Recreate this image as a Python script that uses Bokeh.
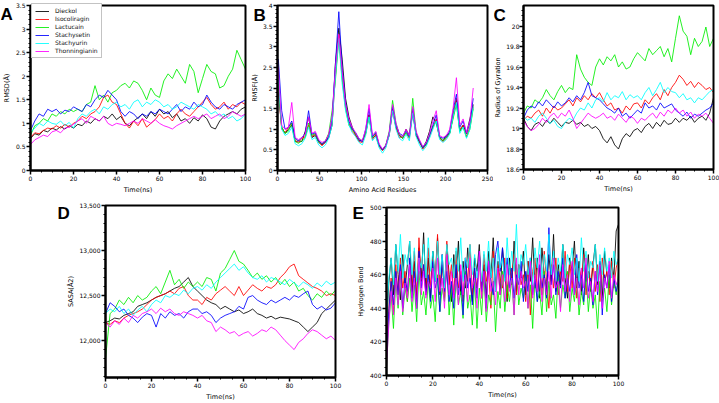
from bokeh.plotting import figure
from bokeh.layouts import column, row
from bokeh.models import (Range1d, SingleIntervalTicker, CustomJSTickFormatter,
                          NumeralTickFormatter, Label, BoxAnnotation)
from bokeh.embed import file_html
from bokeh.resources import INLINE

NAMES = ["Dieckol", "Isocoliragin", "Lactucain", "Stachysetin", "Stachyurin", "Thonningianin"]
COLORS = ["#000000", "#ff0000", "#00ee00", "#0000ff", "#00ffff", "#ff00ff"]

TIME = list(range(0, 101, 2))
TIME_E = list(range(0, 101))
RESIDUES = list(range(1, 234, 4))

# ---- A: RMSD (Angstrom) ----
RMSD_DIECKOL = [0.68,0.78,0.75,0.85,0.82,0.9,0.86,0.93,0.88,0.95,
                0.9,0.98,0.95,1.05,1.0,1.1,1.05,1.15,1.1,1.2,
                1.08,1.15,1.0,0.95,1.05,1.12,1.2,1.1,1.25,1.15,
                1.3,1.2,1.25,1.12,1.2,1.05,1.1,1.0,1.12,1.05,
                1.18,1.1,0.92,0.88,1.05,1.15,1.2,1.25,1.2,1.3,
                1.35]
RMSD_ISOCOLIRAGIN = [0.7,0.8,0.78,0.85,0.9,0.88,0.95,0.9,0.98,0.92,
                     1.0,1.05,1.15,1.1,1.2,1.25,1.35,1.55,1.6,1.45,
                     1.4,1.2,1.0,0.9,1.05,0.95,1.1,0.92,1.0,1.08,
                     1.2,1.1,1.15,1.05,1.2,1.3,1.2,1.15,1.25,1.35,
                     1.45,1.55,1.4,1.3,1.35,1.45,1.3,1.4,1.35,1.45,
                     1.4]
RMSD_LACTUCAIN = [0.75,0.95,1.0,1.1,1.05,1.2,1.15,1.25,1.2,1.3,
                  1.25,1.3,1.25,1.4,1.45,1.8,1.5,1.6,1.45,1.65,
                  1.7,1.8,1.85,1.75,1.9,1.85,1.7,1.5,1.75,1.6,
                  1.55,1.9,2.05,1.95,2.15,2.0,1.85,2.25,2.1,1.65,
                  1.95,2.25,2.1,2.05,1.75,1.8,2.0,2.15,2.55,2.35,
                  2.15]
RMSD_STACHYSETIN = [0.85,1.05,1.2,1.15,1.3,1.25,1.3,1.2,1.28,1.25,
                    1.35,1.3,1.25,1.4,1.35,1.5,1.6,1.55,1.7,1.6,
                    1.5,1.25,1.15,1.25,1.2,1.1,1.2,1.15,1.25,1.2,
                    1.3,1.25,1.2,1.3,1.4,1.25,1.35,1.3,1.45,1.35,
                    1.4,1.6,1.45,1.35,1.3,1.4,1.35,1.3,1.4,1.45,
                    1.5]
RMSD_STACHYURIN = [0.8,0.9,1.0,0.95,1.05,1.0,0.98,1.05,0.95,1.02,
                   0.9,1.1,1.2,1.15,1.25,1.3,1.2,1.35,1.3,1.4,
                   1.45,1.35,1.4,1.3,1.45,1.5,1.35,1.45,1.4,1.5,
                   1.45,1.35,1.4,1.3,1.35,1.45,1.4,1.35,1.3,1.4,
                   1.35,1.3,1.2,1.25,1.15,1.2,1.1,1.15,1.05,1.1,
                   1.2]
RMSD_THONNINGIANIN = [0.55,0.65,0.7,0.75,0.72,0.82,0.85,0.8,0.9,0.92,
                      0.98,1.05,1.1,1.0,1.15,1.1,1.05,1.15,1.0,0.95,
                      1.0,0.98,0.95,1.0,1.05,1.0,1.1,1.05,1.0,1.08,
                      1.0,0.95,0.92,0.88,0.95,1.0,1.05,1.1,1.15,1.1,
                      1.15,1.2,1.1,1.15,1.2,1.1,1.15,1.25,1.2,1.15,
                      1.2]

# ---- B: RMSF (Angstrom) per residue ----
RMSF_DIECKOL = [1.9,1.05,0.9,1.0,1.1,0.7,0.72,0.7,0.95,1.3,
                0.8,0.85,0.68,0.62,0.68,0.8,1.1,2.6,3.45,2.7,
                1.75,1.3,1.05,0.85,0.72,0.72,0.9,1.35,0.78,0.85,
                0.58,0.5,0.62,0.85,1.5,1.05,0.85,0.78,1.0,0.85,
                1.4,0.85,0.68,0.55,0.7,0.95,1.3,1.15,0.8,0.72,
                0.85,0.9,1.3,1.7,0.95,1.1,0.9,1.25,1.6]
RMSF_ISOCOLIRAGIN = [2.0,1.0,0.92,1.05,1.15,0.72,0.68,0.78,0.82,1.1,
                     0.82,0.88,0.72,0.6,0.7,0.88,1.15,2.3,3.3,2.3,
                     1.55,1.15,0.95,0.85,0.7,0.68,0.92,1.35,0.75,0.88,
                     0.6,0.48,0.58,0.88,1.45,1.05,0.8,0.82,0.9,0.78,
                     1.45,0.88,0.7,0.52,0.62,0.82,1.05,1.25,0.78,0.7,
                     0.78,0.92,1.35,1.75,1.0,1.1,0.82,1.05,1.55]
RMSF_LACTUCAIN = [2.1,1.05,0.9,0.95,1.15,0.7,0.66,0.72,0.8,1.15,
                  0.85,0.9,0.7,0.65,0.72,0.9,1.45,2.2,3.2,2.2,
                  1.5,1.1,0.98,0.9,0.78,0.72,0.9,1.3,0.8,0.92,
                  0.62,0.5,0.62,0.95,1.7,1.15,0.88,0.78,0.92,0.8,
                  1.75,0.92,0.72,0.55,0.62,0.88,1.05,1.2,0.82,0.72,
                  0.8,0.9,1.25,1.6,0.95,1.05,0.8,1.0,1.5]
RMSF_STACHYSETIN = [2.7,1.45,1.0,1.05,1.2,0.78,0.72,0.8,0.9,1.45,
                    0.88,0.92,0.72,0.65,0.7,0.82,1.25,2.6,3.85,2.5,
                    1.65,1.2,1.0,0.92,0.75,0.7,1.0,1.5,0.82,0.92,
                    0.62,0.5,0.6,0.9,1.55,1.1,0.9,0.85,0.95,0.82,
                    1.5,0.9,0.72,0.55,0.65,0.85,1.1,1.35,0.82,0.78,
                    0.82,0.95,1.45,1.85,1.05,1.2,0.9,1.15,1.75]
RMSF_STACHYURIN = [2.2,1.0,0.85,0.9,1.05,0.65,0.6,0.65,0.78,1.05,
                   0.75,0.8,0.62,0.55,0.62,0.78,1.1,2.3,3.2,2.1,
                   1.45,1.1,0.92,0.82,0.68,0.62,0.85,1.3,0.72,0.82,
                   0.55,0.42,0.55,0.85,1.45,1.0,0.78,0.72,0.88,0.72,
                   1.4,0.82,0.62,0.48,0.58,0.78,1.0,1.2,0.75,0.68,
                   0.75,0.88,1.3,1.65,0.9,1.05,0.78,1.0,1.55]
RMSF_THONNINGIANIN = [2.5,1.1,1.0,1.05,1.65,0.8,0.75,0.8,0.88,1.3,
                      0.9,0.95,0.75,0.68,0.72,0.88,1.3,2.5,3.3,2.4,
                      1.6,1.25,1.05,0.92,0.78,0.72,1.0,1.6,0.85,0.95,
                      0.65,0.52,0.62,0.92,1.6,1.15,0.88,0.82,1.0,0.85,
                      1.55,0.95,0.75,0.58,0.68,0.9,1.2,1.45,0.85,0.8,
                      0.85,1.0,1.5,2.25,1.1,1.25,0.92,1.2,2.0]

# ---- C: Radius of gyration ----
RG_DIECKOL = [19.1,19.02,18.98,19.04,19.06,19.02,19.08,19.05,19.1,19.06,
              19.02,19.06,19.05,19.08,19.04,19.06,19.02,19.04,19.0,19.02,
              18.98,18.9,18.86,18.92,18.84,18.8,18.9,18.95,18.92,18.98,
              19.0,18.96,19.02,19.05,19.0,19.06,19.02,19.08,19.04,19.05,
              19.1,19.06,19.1,19.08,19.12,19.06,19.1,19.12,19.08,19.15,
              19.3]
RG_ISOCOLIRAGIN = [19.08,19.12,19.1,19.15,19.18,19.12,19.2,19.15,19.22,19.18,
                   19.2,19.24,19.28,19.22,19.3,19.26,19.32,19.28,19.34,19.3,
                   19.35,19.28,19.22,19.25,19.18,19.2,19.15,19.22,19.18,19.24,
                   19.25,19.2,19.28,19.24,19.3,19.34,19.28,19.38,19.32,19.4,
                   19.45,19.52,19.48,19.42,19.46,19.4,19.45,19.42,19.38,19.4,
                   19.35]
RG_LACTUCAIN = [19.15,19.22,19.2,19.28,19.25,19.3,19.38,19.32,19.28,19.36,
                19.42,19.35,19.4,19.38,19.72,19.58,19.5,19.45,19.42,19.6,
                19.68,19.62,19.7,19.66,19.72,19.6,19.65,19.58,19.6,19.68,
                19.74,19.7,19.66,19.78,19.72,19.76,19.8,19.7,19.78,19.65,
                19.88,20.1,19.95,19.9,19.72,19.88,19.8,19.85,19.99,19.8,
                19.88]
RG_STACHYSETIN = [19.1,19.18,19.22,19.2,19.26,19.22,19.28,19.24,19.2,19.26,
                  19.22,19.25,19.3,19.26,19.32,19.28,19.35,19.45,19.32,19.3,
                  19.28,19.24,19.2,19.18,19.15,19.2,19.12,19.15,19.1,19.14,
                  19.18,19.15,19.25,19.2,19.22,19.18,19.25,19.2,19.22,19.24,
                  19.18,19.15,19.12,19.16,19.1,19.14,19.12,19.15,19.18,19.2,
                  19.25]
RG_STACHYURIN = [19.12,19.08,19.1,19.06,19.12,19.15,19.1,19.05,19.08,19.02,
                 19.0,19.06,19.1,19.08,19.15,19.2,19.18,19.25,19.2,19.28,
                 19.3,19.26,19.35,19.28,19.32,19.3,19.36,19.28,19.33,19.3,
                 19.32,19.28,19.35,19.4,19.32,19.38,19.45,19.35,19.4,19.36,
                 19.35,19.3,19.34,19.28,19.3,19.25,19.3,19.28,19.32,19.36,
                 19.38]
RG_THONNINGIANIN = [19.08,19.02,18.98,19.0,19.04,19.1,19.06,19.12,19.15,19.1,
                    19.15,19.12,19.18,19.1,19.0,19.05,19.1,19.15,19.12,19.1,
                    19.12,19.15,19.1,19.12,19.08,19.14,19.1,19.06,19.12,19.1,
                    19.05,19.1,19.08,19.12,19.15,19.1,19.16,19.12,19.18,19.15,
                    19.2,19.15,19.18,19.12,19.16,19.1,19.14,19.12,19.15,19.1,
                    19.05]

# ---- D: SASA ----
SASA_DIECKOL = [12200,12220,12250,12240,12280,12300,12320,12380,12400,12420,
                12450,12480,12500,12520,12550,12580,12600,12650,12700,12600,
                12550,12500,12450,12420,12400,12350,12380,12350,12320,12340,
                12300,12320,12350,12300,12280,12250,12270,12240,12260,12250,
                12240,12220,12200,12150,12100,12150,12200,12300,12350,12400,
                12450]
SASA_ISOCOLIRAGIN = [12200,12180,12220,12200,12250,12280,12300,12320,12350,12400,
                     12450,12480,12500,12520,12550,12520,12580,12600,12500,12450,
                     12450,12400,12480,12450,12520,12560,12600,12550,12500,12600,
                     12500,12560,12620,12580,12550,12600,12580,12620,12700,12750,
                     12820,12850,12720,12680,12640,12600,12580,12550,12500,12520,
                     12500]
SASA_LACTUCAIN = [11800,12300,12350,12450,12400,12480,12420,12500,12450,12480,
                  12550,12600,12520,12650,12780,12620,12680,12580,12650,12600,
                  12650,12600,12700,12680,12550,12750,12800,12900,13000,12880,
                  12850,12780,12700,12750,12680,12720,12650,12700,12620,12680,
                  12600,12650,12550,12580,12500,12450,12520,12480,12550,12500,
                  12560]
SASA_STACHYSETIN = [12300,12420,12380,12320,12350,12280,12250,12200,12260,12300,
                    12280,12150,12300,12250,12320,12280,12300,12250,12320,12350,
                    12350,12300,12320,12280,12200,12250,12280,12300,12320,12380,
                    12350,12480,12500,12450,12420,12400,12450,12420,12450,12480,
                    12450,12500,12480,12520,12550,12400,12350,12380,12340,12360,
                    12420]
SASA_STACHYURIN = [12300,12350,12320,12380,12300,12350,12280,12340,12380,12320,
                   12400,12450,12420,12500,12480,12520,12500,12560,12520,12580,
                   12600,12560,12620,12580,12650,12700,12750,12800,12850,12780,
                   12820,12750,12700,12680,12720,12650,12700,12680,12650,12620,
                   12680,12640,12600,12650,12620,12580,12640,12600,12660,12620,
                   12650]
SASA_THONNINGIANIN = [12200,12150,12220,12180,12250,12200,12280,12250,12300,12320,
                      12350,12300,12360,12320,12350,12300,12280,12320,12300,12280,
                      12250,12280,12220,12200,12100,12150,12120,12080,12100,12050,
                      12080,12100,12050,12080,12120,12100,12150,12120,12060,12000,
                      11950,11900,11980,12020,12080,12120,12100,12060,12020,12050,
                      12000]

# ---- E: Hydrogen bonds ----
HB_DIECKOL = [430,455,470,448,478,460,445,472,452,466,
              480,450,468,444,476,458,485,450,470,446,
              474,456,482,448,466,452,478,460,444,472,
              456,480,448,468,452,476,458,444,470,462,
              478,450,466,446,474,458,482,452,468,448,
              476,460,444,470,454,480,450,466,458,474,
              448,468,456,482,452,470,446,476,460,450,
              472,456,484,450,466,454,478,458,446,470,
              462,480,452,468,448,476,456,472,450,466,
              478,454,468,446,474,460,452,470,458,486,
              490]
HB_ISOCOLIRAGIN = [420,440,458,436,466,448,470,452,462,444,
                   468,450,474,446,482,456,466,448,476,452,
                   470,458,484,450,472,446,480,454,466,448,
                   474,452,462,444,470,456,478,448,464,452,
                   468,446,472,456,462,440,474,450,466,458,
                   452,470,446,464,458,472,448,466,454,460,
                   444,468,436,462,470,450,464,448,474,456,
                   440,466,452,470,448,462,456,474,450,468,
                   452,470,446,464,458,472,448,462,454,468,
                   450,466,444,470,456,462,448,468,452,464,
                   470]
HB_LACTUCAIN = [405,432,448,428,456,440,462,436,452,444,
                458,438,454,432,462,442,450,436,456,440,
                448,432,460,438,452,444,466,436,454,430,
                458,442,450,434,462,440,448,430,456,428,
                452,436,460,432,448,442,456,426,450,440,
                462,438,454,444,458,436,466,442,452,446,
                460,440,454,428,458,444,450,436,462,438,
                456,442,448,434,460,440,454,446,462,438,
                452,444,458,436,450,442,462,438,454,440,
                448,428,456,444,452,438,460,442,456,448,
                462]
HB_STACHYSETIN = [410,438,456,442,462,448,466,440,458,450,
                  470,446,462,440,474,452,466,448,460,444,
                  468,452,458,438,472,450,462,444,456,440,
                  466,448,460,436,470,452,458,442,464,446,
                  474,450,462,440,468,456,448,472,480,462,
                  476,458,470,452,464,446,460,454,468,444,
                  462,450,470,448,458,444,466,452,460,446,
                  488,454,466,448,462,452,470,446,458,450,
                  464,448,472,452,460,444,466,450,458,442,
                  462,448,468,436,460,452,466,444,458,450,
                  456]
HB_STACHYURIN = [430,458,470,454,478,462,484,458,472,466,
                 480,460,476,456,470,464,478,458,482,462,
                 474,456,480,460,472,452,478,466,470,458,
                 476,462,482,456,470,464,478,460,472,458,
                 468,456,474,462,480,458,470,450,476,464,
                 470,456,482,460,474,462,490,458,472,466,
                 478,460,470,454,476,464,480,458,472,462,
                 484,460,474,456,470,462,478,458,472,466,
                 476,460,470,456,482,462,474,458,468,464,
                 478,456,472,460,476,462,470,458,474,466,
                 470]
HB_THONNINGIANIN = [405,430,450,436,458,442,462,438,455,446,
                    466,444,458,440,470,448,462,446,456,452,
                    464,444,470,450,458,440,472,448,462,446,
                    458,442,466,448,460,444,470,452,458,440,
                    474,446,462,438,468,450,456,442,464,448,
                    460,444,466,450,458,436,470,448,462,452,
                    456,440,468,446,460,450,472,444,458,448,
                    462,446,470,452,456,438,466,450,460,444,
                    468,448,458,442,464,452,470,446,456,444,
                    462,450,466,440,458,452,468,446,460,454,
                    458]

RMSD = [RMSD_DIECKOL, RMSD_ISOCOLIRAGIN, RMSD_LACTUCAIN, RMSD_STACHYSETIN, RMSD_STACHYURIN, RMSD_THONNINGIANIN]
RMSF = [RMSF_DIECKOL, RMSF_ISOCOLIRAGIN, RMSF_LACTUCAIN, RMSF_STACHYSETIN, RMSF_STACHYURIN, RMSF_THONNINGIANIN]
RG = [RG_DIECKOL, RG_ISOCOLIRAGIN, RG_LACTUCAIN, RG_STACHYSETIN, RG_STACHYURIN, RG_THONNINGIANIN]
SASA = [SASA_DIECKOL, SASA_ISOCOLIRAGIN, SASA_LACTUCAIN, SASA_STACHYSETIN, SASA_STACHYURIN, SASA_THONNINGIANIN]
HB = [HB_DIECKOL, HB_ISOCOLIRAGIN, HB_LACTUCAIN, HB_STACHYSETIN, HB_STACHYURIN, HB_THONNINGIANIN]

FONT = "DejaVu Sans"
TRIM = CustomJSTickFormatter(code="return String(Math.round(tick*100)/100);")


def make_fig(cw, ch, box, xr, yr, xint, xminor, yint, yminor, xlabel, ylabel, yfmt=None):
    # box = (left, top, right, bottom) of the plot box inside the canvas, in pixels
    l, t, r, b = box
    x0, x1 = xr
    y0, y1 = yr
    sx = (r - l) / (x1 - x0)
    sy = (b - t) / (y1 - y0)
    p = figure(frame_width=cw, frame_height=ch, min_border=0,
               x_range=Range1d(x0 - l / sx, x1 + (cw - r) / sx),
               y_range=Range1d(y0 - (ch - b) / sy, y1 + t / sy),
               output_backend="svg", toolbar_location=None,
               background_fill_color="white", border_fill_color="white")
    p.grid.visible = False
    p.outline_line_color = None
    p.xaxis.fixed_location = y0
    p.yaxis.fixed_location = x0
    p.xaxis.bounds = (x0, x1)
    p.yaxis.bounds = (y0, y1)
    p.xaxis.ticker = SingleIntervalTicker(interval=xint, num_minor_ticks=xminor)
    p.yaxis.ticker = SingleIntervalTicker(interval=yint, num_minor_ticks=yminor)
    p.xaxis.formatter = TRIM
    p.yaxis.formatter = yfmt if yfmt is not None else TRIM
    p.xaxis.axis_label = xlabel
    p.yaxis.axis_label = ylabel
    for ax in (p.xaxis, p.yaxis):
        ax.axis_line_width = 2
        ax.axis_line_color = "black"
        ax.major_tick_line_width = 1.5
        ax.minor_tick_line_width = 1
        ax.major_tick_out = 4
        ax.major_tick_in = 0
        ax.minor_tick_out = 2
        ax.minor_tick_in = 0
        ax.major_label_text_font = FONT
        ax.major_label_text_font_size = "6px"
        ax.major_label_text_color = "#000000"
        ax.major_label_standoff = 1
        ax.axis_label_text_font = FONT
        ax.axis_label_text_font_size = "6.5px"
        ax.axis_label_text_font_style = "normal"
        ax.axis_label_text_color = "#000000"
        ax.axis_label_standoff = 2
    p.add_layout(BoxAnnotation(left=x0, right=x1, bottom=y0, top=y1,
                               fill_color=None, fill_alpha=0,
                               line_color="black", line_width=2, line_alpha=1))
    return p


def letter(p, txt, x, y):
    p.add_layout(Label(x=x, y=y, x_units="screen", y_units="screen", text=txt,
                       text_font="Liberation Sans", text_font_size="17px",
                       text_font_style="bold", text_color="black",
                       text_baseline="alphabetic"))


# Panel A  (canvas x 0..251, 198 high)
pA = make_fig(251, 198, (30, 5, 245, 170), (0, 100), (0, 3.5), 20, 4, 0.5, 5, "Time(ns)", "RMSD(Å)")
for name, col, ys in zip(NAMES, COLORS, RMSD):
    pA.line(TIME, ys, line_color=col, line_width=1, line_alpha=0.85, legend_label=name)
pA.legend.location = (31, 140)
pA.legend.margin = 0
pA.legend.padding = 3
pA.legend.spacing = 1
pA.legend.label_height = 6
pA.legend.glyph_height = 6
pA.legend.glyph_width = 14
pA.legend.label_standoff = 6
pA.legend.label_text_font = FONT
pA.legend.label_text_font_size = "6px"
pA.legend.label_text_color = "#111111"
pA.legend.border_line_color = "#888888"
pA.legend.border_line_width = 1
pA.legend.background_fill_alpha = 1
letter(pA, "A", 0, 184)

# Panel B  (canvas x 251..493)
pB = make_fig(242, 198, (26, 5, 236, 170), (0, 250), (0, 4), 50, 5, 0.5, 5, "Amino Acid Residues", "RMSF(Å)")
pB.yaxis.axis_label_standoff = 1
for col, ys in zip(COLORS, RMSF):
    pB.line(RESIDUES, ys, line_color=col, line_width=1, line_alpha=0.85)
letter(pB, "B", 2, 183)

# Panel C  (canvas x 493..719)
pC = make_fig(226, 198, (30, 5, 220, 169), (0, 100), (18.6, 20.2), 20, 4, 0.2, 4, "Time(ns)", "Radius of Gyration")
pC.yaxis.axis_label_standoff = 1
pC.yaxis.major_label_standoff = 0
for col, ys in zip(COLORS, RG):
    pC.line(TIME, ys, line_color=col, line_width=1, line_alpha=0.85)
letter(pC, "C", 0, 183)

# Panel D  (canvas x 0..345, 205 high)
pD = make_fig(345, 205, (105, 7, 335, 179), (0, 100), (11590, 13500), 20, 4, 500, 5, "Time(ns)", "SASA(Å2)",
              yfmt=NumeralTickFormatter(format="0,0"))
for col, ys in zip(COLORS, SASA):
    pD.line(TIME, ys, line_color=col, line_width=1, line_alpha=0.85)
letter(pD, "D", 57, 190)

# Panel E  (canvas x 345..719)
pE = make_fig(374, 205, (41, 9, 273, 177), (0, 100), (400, 500), 20, 4, 20, 4, "Time(ns)", "Hydrogen Bond")
for col, ys in zip(COLORS, HB):
    pE.line(TIME_E, ys, line_color=col, line_width=1, line_alpha=0.85)
letter(pE, "E", 7, 190)

layout = column(row(pA, pB, pC), row(pD, pE))
open("out.html", "w").write(file_html(layout, INLINE))
